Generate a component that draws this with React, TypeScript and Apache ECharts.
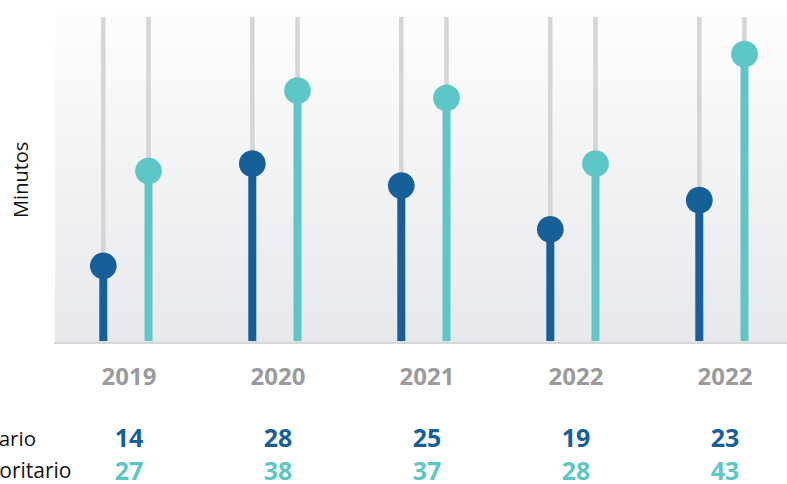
import React, { useEffect, useRef } from "react";
import * as echarts from "echarts";

const years = ["2019", "2020", "2021", "2022", "2022"];
const ordinario = [14, 28, 25, 19, 23];
const prioritario = [27, 38, 37, 28, 43];
const rowLabels = ["Ordinario", "Prioritario"];
const yAxisName = "Minutos";

const DARK = "#156099";
const TEAL = "#5dc6c6";
const GRAY_LINE = "#d4d5d7";
const FONT = "'Open Sans', 'Noto Sans', sans-serif";
const Y_MIN = 3.5;
const Y_MAX = 48.1;

function makeRender(color: string, offset: number) {
  return (params: any, api: any) => {
    const idx = api.value(0);
    const v = api.value(1);
    const top = api.coord([idx, Y_MAX]);
    const base = api.coord([idx, Y_MIN]);
    const pt = api.coord([idx, v]);
    const x = pt[0] + offset;
    return {
      type: "group",
      children: [
        {
          type: "line",
          shape: { x1: x, y1: top[1], x2: x, y2: base[1] - 1 },
          style: { stroke: GRAY_LINE, lineWidth: 4.5 },
        },
        {
          type: "line",
          shape: { x1: x, y1: pt[1], x2: x, y2: base[1] - 1.5 },
          style: { stroke: color, lineWidth: 8 },
        },
        {
          type: "circle",
          shape: { cx: x, cy: pt[1], r: 13.4 },
          style: { fill: color },
        },
      ],
    };
  };
}

export default function App() {
  const ref = useRef<HTMLDivElement>(null);
  useEffect(() => {
    document.body.style.margin = "0";
    if (!ref.current) return;
    const chart = echarts.init(ref.current, null, { renderer: "svg" });
    chart.setOption({
      animation: false,
      grid: {
        left: 54.5,
        top: 17,
        width: 745,
        height: 325.5,
        containLabel: false,
        outerBoundsMode: "none",
      },
      xAxis: {
        type: "category",
        data: years,
        axisLine: { show: true, lineStyle: { color: "#d6d7d8", width: 2 } },
        axisTick: { show: false },
        axisLabel: {
          interval: 0,
          margin: 18,
          formatter: (value: string, index: number) =>
            `{y|${value}}\n{g| }\n{a|${ordinario[index]}}\n{b|${prioritario[index]}}`,
          rich: {
            y: { fontFamily: FONT, fontWeight: "bold", fontSize: 24, color: "#9b9b9b", lineHeight: 30 },
            g: { fontSize: 10, lineHeight: 30.25 },
            a: { fontFamily: FONT, fontWeight: "bold", fontSize: 25, color: DARK, lineHeight: 32.5 },
            b: { fontFamily: FONT, fontWeight: "bold", fontSize: 25, color: TEAL, lineHeight: 32.5 },
          },
        },
      },
      yAxis: {
        type: "value",
        min: Y_MIN,
        max: Y_MAX,
        axisLine: { show: false },
        axisTick: { show: false },
        axisLabel: { show: false },
        splitLine: { show: false },
        name: yAxisName,
        nameLocation: "middle",
        nameGap: 24,
        nameTextStyle: { fontFamily: FONT, fontSize: 20, color: "#111" },
      },
      graphic: [
        {
          type: "rect",
          z: -100,
          silent: true,
          shape: { x: 55, y: 14, width: 732, height: 328.5 },
          style: {
            fill: new echarts.graphic.LinearGradient(0, 0, 0, 1, [
              { offset: 0, color: "#fdfdfd" },
              { offset: 1, color: "#e7e8ea" },
            ]),
          },
        },
        {
          type: "text",
          x: 36,
          y: 437.5,
          style: {
            text: rowLabels[0],
            fontFamily: FONT,
            fontSize: 20.5,
            fill: "#111",
            textAlign: "right",
            textVerticalAlign: "middle",
          },
        },
        {
          type: "text",
          x: 71.5,
          y: 470,
          style: {
            text: rowLabels[1],
            fontFamily: FONT,
            fontSize: 21,
            fill: "#111",
            textAlign: "right",
            textVerticalAlign: "middle",
          },
        },
      ],
      series: [
        {
          name: rowLabels[0],
          type: "custom",
          renderItem: makeRender(DARK, -25.7),
          data: ordinario.map((v, i) => [i, v]),
          z: 3,
        },
        {
          name: rowLabels[1],
          type: "custom",
          renderItem: makeRender(TEAL, 19.5),
          data: prioritario.map((v, i) => [i, v]),
          z: 3,
        },
      ],
    });
    return () => chart.dispose();
  }, []);
  return (
    <div
      ref={ref}
      style={{ position: "absolute", left: 0, top: 0, width: 787, height: 484 }}
    />
  );
}
